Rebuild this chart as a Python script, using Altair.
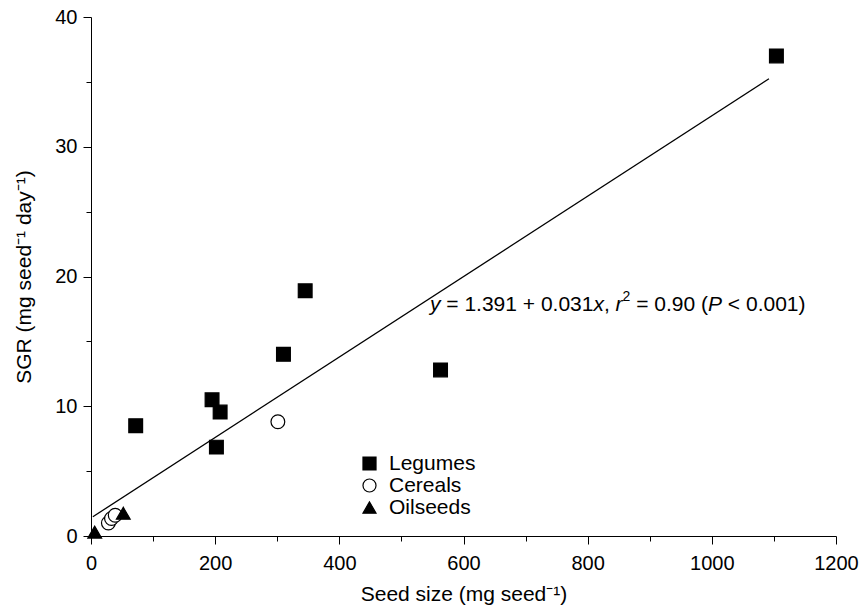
import altair as alt
import pandas as pd

# Seed size (mg seed^-1) against seed growth rate, SGR (mg seed^-1 day^-1)
legume_size = [72, 195, 202, 208, 310, 345, 563, 1104]
legume_sgr = [8.5, 10.5, 6.85, 9.55, 14.0, 18.9, 12.8, 37.0]
cereal_size = [28, 33, 39, 301]
cereal_sgr = [1.0, 1.35, 1.6, 8.8]
oilseed_size = [6, 52]
oilseed_sgr = [0.3, 1.75]

groups = ["Legumes", "Cereals", "Oilseeds"]
shapes = ["square", "circle", "triangle-up"]
fills = ["black", "white", "black"]

# Linear fit reported on the chart
intercept = 1.391
slope = 0.031
fit_span = [3, 1092]

FONT = "Liberation Sans"
FS = 21      # titles, legend, equation
TICK_FS = 20

rows = []
for g, xs, ys in [("Legumes", legume_size, legume_sgr),
                  ("Cereals", cereal_size, cereal_sgr),
                  ("Oilseeds", oilseed_size, oilseed_sgr)]:
    for a, b in zip(xs, ys):
        rows.append({"size": a, "sgr": b, "group": g})
pts = pd.DataFrame(rows)

fit = pd.DataFrame({"size": fit_span,
                    "sgr": [intercept + slope * v for v in fit_span]})

x_scale = alt.Scale(domain=[0, 1200], nice=False, zero=False)
y_scale = alt.Scale(domain=[0, 40], nice=False, zero=False)

x_axis = alt.Axis(
    title="Seed size (mg seed\u207b\u00b9)",
    values=list(range(0, 1201, 100)), format="d",
    labelExpr="datum.value % 200 === 0 ? datum.label : ''",
    tickSize={"condition": {"test": "datum.value % 200 === 0", "value": 8}, "value": 5},
    grid=False, domainColor="black", tickColor="black", labelColor="black",
    titleColor="black", labelFont=FONT, titleFont=FONT, labelFontSize=TICK_FS,
    titleFontSize=FS, titleFontWeight="normal", labelPadding=9, titlePadding=10,
    labelFlush=False, labelOverlap=False,
)
y_axis = alt.Axis(
    title="SGR (mg seed\u207b\u00b9 day\u207b\u00b9)",
    values=list(range(0, 41, 5)), format="d",
    labelExpr="datum.value % 10 === 0 ? datum.label : ''",
    tickSize={"condition": {"test": "datum.value % 10 === 0", "value": 8}, "value": 5},
    grid=False, domainColor="black", tickColor="black", labelColor="black",
    titleColor="black", labelFont=FONT, titleFont=FONT, labelFontSize=TICK_FS,
    titleFontSize=FS, titleFontWeight="normal", labelPadding=6, titlePadding=20,
    labelFlush=False, labelOverlap=False,
)

legend = alt.Legend(
    title=None, orient="none", legendX=268, legendY=436, padding=0,
    labelFont=FONT, labelFontSize=FS, labelColor="black", symbolSize=170,
    symbolStrokeColor="black", symbolStrokeWidth=1.2, rowPadding=0,
    labelOffset=9, symbolOffset=0,
)

points = alt.Chart(pts).mark_point(
    filled=True, strokeWidth=1.2, opacity=1, fillOpacity=1, size=190
).encode(
    x=alt.X("size:Q", scale=x_scale, axis=x_axis),
    y=alt.Y("sgr:Q", scale=y_scale, axis=y_axis),
    shape=alt.Shape("group:N", scale=alt.Scale(domain=groups, range=shapes), legend=legend),
    fill=alt.Fill("group:N", scale=alt.Scale(domain=groups, range=fills), legend=legend),
    stroke=alt.Stroke("group:N", scale=alt.Scale(domain=groups, range=["black"] * 3),
                      legend=legend),
)

line = alt.Chart(fit).mark_line(color="black", strokeWidth=1.3).encode(
    x=alt.X("size:Q", scale=x_scale),
    y=alt.Y("sgr:Q", scale=y_scale),
)

# Equation annotation, built from pieces so the variables can be italic.
# Leading spaces are turned into offsets, since text marks trim them.
eq_x, eq_y = 546, 17.8
widths = {" ": 278, "=": 584, "+": 584, "<": 584, ".": 278, ",": 278,
          "(": 333, ")": 333, "x": 500, "y": 500, "r": 333, "P": 667}
for d in "0123456789":
    widths[d] = 556

def text_width(s, size):
    return sum(widths.get(c, 556) for c in s) * size / 1000.0

r2 = f"{0.90:.2f}"
pieces = [
    ("y", "italic", FS, 0),
    (f" = {intercept} + {slope}", "normal", FS, 0),
    ("x", "italic", FS, 0),
    (", ", "normal", FS, 0),
    ("r", "italic", FS, 0),
    ("2", "normal", 14, -8),
    (f" = {r2} (", "normal", FS, 0),
    ("P", "italic", FS, 0),
    (" < 0.001)", "normal", FS, 0),
]
eq_layers = []
offset = 0.0
for txt, style, size, dy in pieces:
    body = txt.lstrip(" ")
    lead = text_width(txt[: len(txt) - len(body)], size)
    eq_layers.append(
        alt.Chart(pd.DataFrame({"size": [eq_x], "sgr": [eq_y], "t": [body]}))
        .mark_text(align="left", baseline="middle", font=FONT, fontSize=size,
                   fontStyle=style, color="black", dx=offset + lead, dy=dy)
        .encode(x=alt.X("size:Q", scale=x_scale), y=alt.Y("sgr:Q", scale=y_scale),
                text="t:N")
    )
    offset += text_width(txt, size)

chart = alt.layer(line, points, *eq_layers).properties(
    width=745, height=519,
    autosize=alt.AutoSizeParams(type="none"),
    padding={"left": 91, "top": 17, "right": 27, "bottom": 70},
).configure_view(stroke=None).configure_axis(domainWidth=1, tickWidth=1)

chart.save("out.html", embed_options={"renderer": "svg", "actions": False})
